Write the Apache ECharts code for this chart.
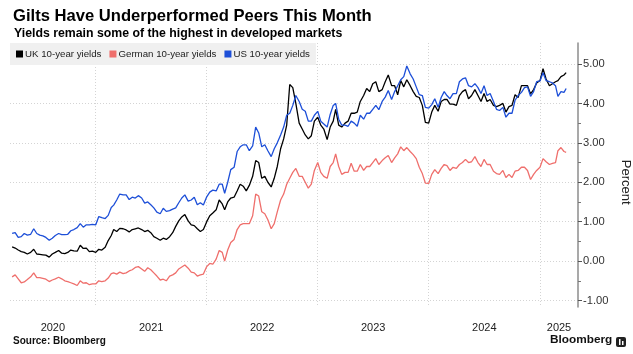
<!DOCTYPE html>
<html>
<head>
<meta charset="utf-8">
<script src="https://cdn.jsdelivr.net/npm/echarts@6/dist/echarts.min.js"></script>
<style>
  html, body { margin: 0; padding: 0; background: #fff; }
  #chart { width: 633px; height: 354px; }
</style>
</head>
<body>
<div id="chart"></div>
<script>
// sample dates: 1st, 11th and 21st of each month, Apr 2020 - Mar 2025, plus last print
const dates = [];
for (let y = 2020; y <= 2025; y++) {
  for (let m = 1; m <= 12; m++) {
    if (y === 2020 && m < 4) continue;
    if (y === 2025 && m > 3) break;
    [1, 11, 21].forEach(d => dates.push(y + '-' + String(m).padStart(2, '0') + '-' + String(d).padStart(2, '0')));
  }
}
dates.push('2025-03-28');

// UK 10-year gilt yield, %
const ukYields = [
  0.36,0.33,0.28, 0.24,0.22,0.18, 0.22,0.30,0.18, 0.17,0.16,0.15, 0.10,0.18,0.22, 0.27,0.20,0.19, 0.22,0.28,0.26, 0.25,0.40,0.32, 0.33,0.24,0.25,
  0.22,0.30,0.28, 0.35,0.52,0.65, 0.80,0.75,0.83, 0.82,0.79,0.74, 0.80,0.82,0.84, 0.80,0.75,0.78, 0.72,0.62,0.58, 0.53,0.58,0.55, 0.62,0.72,0.88, 1.02,1.12,1.18, 1.02,0.92,0.90, 0.82,0.75,0.80,
  1.00,1.15,1.22, 1.30,1.55,1.45, 1.30,1.50,1.60, 1.62,1.78,1.95, 1.90,1.78,1.92, 2.15,2.55,2.50, 2.10,2.15,2.00, 1.88,2.10,2.40, 2.85,3.10,3.45, 4.48,4.40,4.00, 3.50,3.35,3.20, 3.10,3.18,3.55,
  3.65,3.45,3.35, 3.08,3.40,3.55, 3.85,3.45,3.40, 3.50,3.55,3.75, 3.75,3.78,4.05, 4.20,4.38,4.30, 4.50,4.55,4.30, 4.35,4.55,4.72, 4.45,4.45,4.22, 4.58,4.42,4.60, 4.45,4.30,4.18, 4.15,3.95,3.52,
  3.50,3.78,3.95, 3.80,4.05,4.10, 4.10,3.98,3.98, 3.95,4.20,4.30, 4.35,4.12,4.20, 4.35,4.20,4.05, 4.25,4.05,4.10, 3.95,3.92,3.95, 4.00,3.78,3.92, 3.95,4.22,4.15, 4.45,4.45,4.45, 4.24,4.35,4.52,
  4.58,4.88,4.62, 4.45,4.50,4.55, 4.58,4.68,4.72, 4.78
];

// German 10-year bund yield, %
const deYields = [
  -0.40,-0.35,-0.45, -0.55,-0.53,-0.47, -0.40,-0.30,-0.42, -0.42,-0.44,-0.46, -0.52,-0.48,-0.45, -0.41,-0.45,-0.50, -0.52,-0.55,-0.58, -0.62,-0.50,-0.56, -0.55,-0.60,-0.58,
  -0.58,-0.50,-0.52, -0.50,-0.43,-0.32, -0.30,-0.33,-0.28, -0.32,-0.30,-0.25, -0.22,-0.16,-0.14, -0.20,-0.26,-0.17, -0.22,-0.30,-0.38, -0.48,-0.46,-0.50, -0.38,-0.35,-0.30, -0.20,-0.15,-0.10, -0.18,-0.28,-0.30, -0.38,-0.35,-0.33,
  -0.14,-0.06,-0.08, 0.05,0.27,0.22, 0.00,0.28,0.47, 0.55,0.80,0.92, 0.95,0.95,0.95, 1.15,1.70,1.65, 1.25,1.20,1.05, 0.82,0.95,1.25, 1.55,1.70,1.95, 2.10,2.25,2.35, 2.15,2.15,2.00, 1.85,1.95,2.30,
  2.50,2.25,2.15, 2.10,2.40,2.50, 2.72,2.40,2.20, 2.25,2.25,2.48, 2.28,2.28,2.45, 2.30,2.40,2.40, 2.50,2.60,2.45, 2.55,2.62,2.68, 2.50,2.62,2.72, 2.90,2.80,2.88, 2.78,2.70,2.60, 2.38,2.22,1.98,
  1.97,2.20,2.32, 2.22,2.35,2.45, 2.42,2.30,2.38, 2.35,2.45,2.50, 2.58,2.50,2.52, 2.65,2.50,2.40, 2.58,2.45,2.45, 2.28,2.22,2.20, 2.30,2.12,2.20, 2.12,2.28,2.30, 2.38,2.38,2.30, 2.07,2.20,2.30,
  2.38,2.60,2.52, 2.45,2.48,2.50, 2.80,2.88,2.78, 2.76
];

// US 10-year treasury yield, %
const usYields = [
  0.70,0.72,0.60, 0.62,0.70,0.66, 0.68,0.82,0.70, 0.66,0.64,0.60, 0.53,0.58,0.65, 0.70,0.67,0.67, 0.68,0.77,0.80, 0.85,0.95,0.86, 0.92,0.92,0.93,
  0.92,1.13,1.10, 1.08,1.16,1.36, 1.42,1.55,1.70, 1.68,1.68,1.56, 1.62,1.60,1.66, 1.60,1.47,1.50, 1.43,1.35,1.24, 1.20,1.34,1.26, 1.28,1.32,1.35, 1.48,1.60,1.68, 1.52,1.55,1.62, 1.43,1.48,1.42,
  1.63,1.75,1.80, 1.78,1.95,1.95, 1.72,2.00,2.32, 2.38,2.78,2.90, 2.95,2.95,2.80, 2.92,3.40,3.25, 2.90,2.95,2.80, 2.65,2.85,3.00, 3.20,3.40,3.70, 3.75,3.95,4.20, 4.05,3.85,3.80, 3.55,3.55,3.70,
  3.80,3.55,3.48, 3.40,3.72,3.95, 4.00,3.60,3.45, 3.45,3.42,3.55, 3.50,3.42,3.70, 3.60,3.75,3.75, 3.85,3.95,3.84, 4.05,4.16,4.33, 4.10,4.30,4.45, 4.60,4.68,4.95, 4.75,4.62,4.42, 4.22,4.20,3.90,
  3.88,3.97,4.12, 3.90,4.15,4.30, 4.20,4.12,4.25, 4.25,4.55,4.62, 4.65,4.45,4.42, 4.50,4.40,4.25, 4.45,4.20,4.25, 4.05,3.85,3.82, 3.90,3.65,3.75, 3.75,4.08,4.20, 4.28,4.40,4.42, 4.18,4.30,4.55,
  4.57,4.78,4.58, 4.55,4.52,4.45, 4.18,4.30,4.28, 4.38
];

const yearLabels = ['2020', '2021', '2022', '2023', '2024', '2025'];
const yTicks = [-1, 0, 1, 2, 3, 4, 5];

const ts = s => Date.parse(s + 'T00:00:00Z');
const xMin = ts('2020-03-25');
const xMax = ts('2025-05-06');
const yearStarts = yearLabels.slice(1).map(y => ts(y + '-01-01'));
// label sits in the middle of the visible part of each year
const yearMids = yearLabels.map(y => {
  const a = Math.max(xMin, ts(y + '-01-01'));
  const b = Math.min(xMax, ts((+y + 1) + '-01-01'));
  return (a + b) / 2;
});

const FONT = '"Liberation Sans", Arial, sans-serif';
const chart = echarts.init(document.getElementById('chart'), null, { renderer: 'canvas' });

const pair = arr => dates.map((d, i) => [ts(d), arr[i]]);
const gridLine = { show: true, lineStyle: { color: '#d4d4d4', type: [1, 2], width: 1 } };

chart.setOption({
  animation: false,
  textStyle: { fontFamily: FONT },
  title: [
    { text: 'Gilts Have Underperformed Peers This Month', left: 8, top: 3,
      textStyle: { fontSize: 16.6, fontWeight: 'bold', color: '#000', fontFamily: FONT } },
    { text: 'Yields remain some of the highest in developed markets', left: 9, top: 23,
      textStyle: { fontSize: 12.3, fontWeight: 'bold', color: '#000', fontFamily: FONT } }
  ],
  legend: {
    left: 10, top: 43,
    padding: [6, 6, 6, 6],
    backgroundColor: '#f0f0f0',
    icon: 'rect', itemWidth: 7, itemHeight: 7, itemGap: 8,
    selectedMode: false,
    textStyle: { fontSize: 9.7, color: '#222', padding: [0, 0, 0, -3], fontFamily: FONT },
    data: ['UK 10-year yields', 'German 10-year yields', 'US 10-year yields']
  },
  grid: [
    { left: 10, right: 55, top: 64, bottom: 53.5, outerBoundsMode: 'none', containLabel: false },
    { left: 10, right: 55, top: 43, bottom: 47, outerBoundsMode: 'none', containLabel: false }
  ],
  xAxis: [
    {
      type: 'value', gridIndex: 0, min: xMin, max: xMax,
      axisLine: { show: false }, axisTick: { show: false }, splitLine: { show: false },
      axisLabel: {
        customValues: yearMids, margin: 22, fontSize: 11, color: '#222', fontFamily: FONT,
        formatter: v => String(new Date(v).getUTCFullYear())
      }
    },
    {
      type: 'value', gridIndex: 1, min: xMin, max: xMax,
      axisLine: { show: false },
      axisTick: { show: false, customValues: yearStarts },
      axisLabel: { show: false, customValues: yearStarts },
      splitLine: gridLine
    }
  ],
  yAxis: [
    {
      type: 'value', gridIndex: 0, position: 'right',
      min: yTicks[0], max: yTicks[yTicks.length - 1], interval: 1,
      axisLine: { show: false },
      axisTick: { show: true, length: 4, lineStyle: { color: '#555' } },
      minorTick: { show: true, splitNumber: 2, length: 3, lineStyle: { color: '#777' } },
      axisLabel: { margin: 5, fontSize: 11.2, color: '#333', fontFamily: FONT, formatter: v => v.toFixed(2) },
      splitLine: gridLine,
      name: 'Percent', nameLocation: 'middle', nameRotate: -90, nameGap: 31,
      nameTextStyle: { fontSize: 13, color: '#222', fontFamily: FONT }
    },
    {
      type: 'value', gridIndex: 1, position: 'right', min: 0, max: 1,
      axisLine: { show: true, lineStyle: { color: '#8c8c8c', width: 1.5 } },
      axisTick: { show: false }, axisLabel: { show: false }, splitLine: { show: false }
    }
  ],
  series: [
    { name: 'UK 10-year yields', type: 'line', data: pair(ukYields), showSymbol: false, clip: false,
      itemStyle: { color: '#000000' }, lineStyle: { width: 1.3, color: '#000000' } },
    { name: 'German 10-year yields', type: 'line', data: pair(deYields), showSymbol: false, clip: false,
      itemStyle: { color: '#ef6f6c' }, lineStyle: { width: 1.3, color: '#ef6f6c' } },
    { name: 'US 10-year yields', type: 'line', data: pair(usYields), showSymbol: false, clip: false,
      itemStyle: { color: '#1d4fd8' }, lineStyle: { width: 1.3, color: '#1d4fd8' } }
  ],
  graphic: [
    { type: 'text', left: 13, top: 336,
      style: { text: 'Source: Bloomberg', font: 'bold 10px ' + FONT, fill: '#111' } },
    { type: 'text', left: 550, top: 334,
      style: { text: 'Bloomberg', font: 'bold 11.8px ' + FONT, fill: '#111' } },
    { type: 'rect', left: 616, top: 337, shape: { width: 10, height: 10, r: 2 }, style: { fill: '#222' } },
    { type: 'rect', left: 619, top: 339, shape: { width: 1.5, height: 6 }, style: { fill: '#fff' } },
    { type: 'rect', left: 622, top: 341, shape: { width: 1.5, height: 4 }, style: { fill: '#fff' } }
  ]
});
</script>
</body>
</html>
